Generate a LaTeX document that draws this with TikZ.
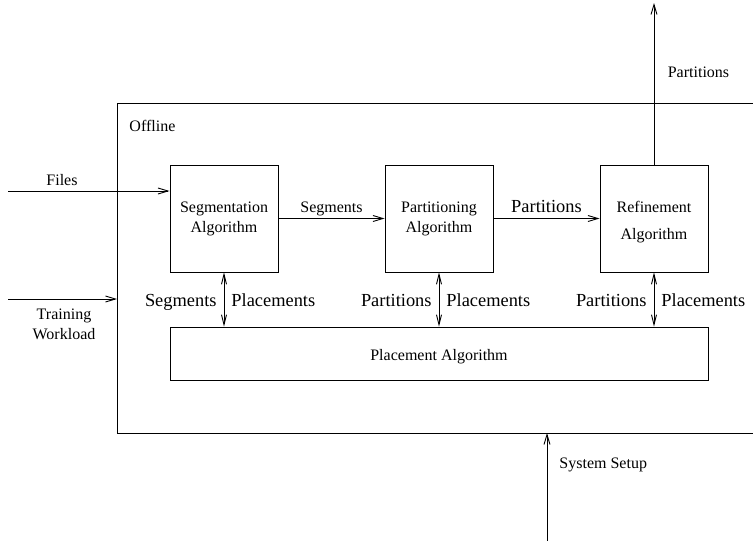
\documentclass[tikz,border=0pt]{standalone}
\usepackage{fontspec}
\setmainfont{Liberation Serif}
\usetikzlibrary{arrows.meta}
\begin{document}
\begin{tikzpicture}[x=1pt,y=-1pt,
  line width=0.9pt,
  arr/.style={-{Straight Barb[length=10pt,width=6pt]}},
  darr/.style={{Straight Barb[length=10pt,width=5pt]}-{Straight Barb[length=10pt,width=5pt]}},
  algbox/.style={draw, minimum width=108pt, minimum height=107pt, inner sep=0pt, align=center, font=\fontsize{16}{20}\selectfont},
  small/.style={font=\fontsize{16}{20}\selectfont, inner sep=0pt},
  big/.style={font=\fontsize{18.4}{22}\selectfont, inner sep=0pt}]
\useasboundingbox (0,0) rectangle (753,541);

% outer offline frame (open to the right)
\coordinate (otr) at (753,103);
\coordinate (otl) at (117,103);
\coordinate (obl) at (117,433);
\coordinate (obr) at (753,433);
\draw (otr) -- (otl) -- (obl) -- (obr);
\node[small, anchor=base west] (offline) at (129,131) {Offline};

% algorithm boxes
\node[algbox] (seg) at (224,218.5) {Segmentation\\Algorithm};
\node[algbox] (part) at (439,218.5) {Partitioning\\Algorithm};
\node[algbox] (ref) at (654,218.5) {};
\node[small, anchor=base] (reftxt1) at (654,212.5) {Refinement};
\node[small, anchor=base] (reftxt2) at (654,239.5) {Algorithm};
\node[draw, minimum width=538pt, minimum height=53pt, inner sep=0pt, small] (place) at (439,353.5) {};
\node[small, anchor=base] (placetxt) at (439,360) {Placement Algorithm};

% inputs
\coordinate (filesin) at (8,191);
\draw[arr] (filesin) -- (filesin -| seg.west);
\node[small, anchor=base] (fileslbl) at (62,185) {Files};

\coordinate (trainin) at (8,299);
\coordinate (trainend) at (117,299);
\draw[arr] (trainin) -- (trainend);
\node[small, anchor=base] (trainlbl1) at (64,319.5) {Training};
\node[small, anchor=base] (trainlbl2) at (64,339.5) {Workload};

% flow between boxes
\draw[arr] (seg.east) -- (part.west);
\node[small, anchor=base] (segslbl) at (331.5,212.5) {Segments};
\draw[arr] (part.east) -- (ref.west);
\node[big, anchor=base] (partlbl) at (546.5,212.8) {Partitions};

% output
\coordinate (outtop) at (654,3);
\draw[arr] (ref.north) -- (outtop);
\node[small, anchor=base] (outlbl) at (698.5,77) {Partitions};

% system setup
\coordinate (sysin) at (547,541);
\draw[arr] (sysin) -- (sysin |- obl);
\node[small, anchor=base west] (syslbl) at (559,468.5) {System Setup};

% two-way arrows with placement algorithm
\draw[darr] (seg.south) -- (seg.south |- place.north);
\node[big, anchor=base east] (l1) at (217,306.5) {Segments};
\node[big, anchor=base west] (r1) at (231,306.5) {Placements};

\draw[darr] (part.south) -- (part.south |- place.north);
\node[big, anchor=base east] (l2) at (432,306.5) {Partitions};
\node[big, anchor=base west] (r2) at (446,306.5) {Placements};

\draw[darr] (ref.south) -- (ref.south |- place.north);
\node[big, anchor=base east] (l3) at (647,306.5) {Partitions};
\node[big, anchor=base west] (r3) at (661,306.5) {Placements};
\end{tikzpicture}
\end{document}
